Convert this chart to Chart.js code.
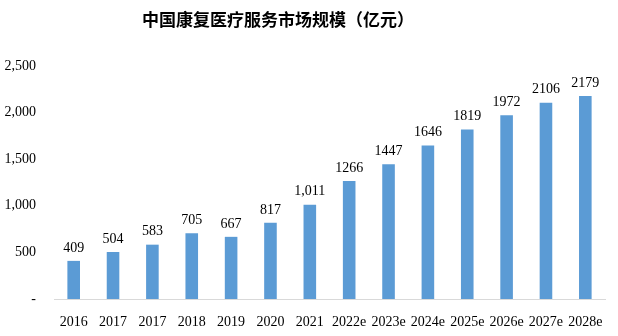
<!DOCTYPE html>
<html>
<head>
<meta charset="utf-8">
<script src="https://cdn.jsdelivr.net/npm/chart.js@4"></script>
<style>
  body { margin: 0; background: #fff; }
  #wrap { width: 618px; height: 336px; }
</style>
</head>
<body>
<div id="wrap"><canvas id="marketChart"></canvas></div>
<script>
// data
const years = ['2016', '2017', '2017', '2018', '2019', '2020', '2021', '2022e', '2023e', '2024e', '2025e', '2026e', '2027e', '2028e'];
const marketSize = [409, 504, 583, 705, 667, 817, 1011, 1266, 1447, 1646, 1819, 1972, 2106, 2179];
const yTicks = [0, 500, 1000, 1500, 2000, 2500];

const serif = "'Liberation Serif', 'Times New Roman', serif";

// value labels over each bar (actual years get thousands separators, estimates don't)
const barLabels = {
    id: 'barLabels',
    afterDatasetsDraw(chart) {
        const ctx = chart.ctx;
        const meta = chart.getDatasetMeta(0);
        ctx.save();
        ctx.font = '14px ' + serif;
        ctx.fillStyle = '#000';
        ctx.textAlign = 'center';
        ctx.textBaseline = 'bottom';
        meta.data.forEach(function(bar, i) {
            const v = marketSize[i];
            const txt = years[i].endsWith('e') ? String(v) : v.toLocaleString('en-US');
            ctx.fillText(txt, bar.x, bar.y - 6);
        });
        ctx.restore();
    }
};

const chartTitle = {
    id: 'chartTitle',
    afterDraw(chart) {
        const ctx = chart.ctx;
        ctx.save();
        ctx.font = "bold 17px 'Noto Sans CJK SC', sans-serif";
        ctx.fillStyle = '#000';
        ctx.textAlign = 'center';
        ctx.textBaseline = 'middle';
        ctx.fillText('中国康复医疗服务市场规模（亿元）', 278, 20);
        ctx.restore();
    }
};

const ctx = document.querySelector('#marketChart').getContext('2d');
const marketChart = new Chart(ctx, {
    type: 'bar',
    data: {
        labels: years,
        datasets: [{
            data: marketSize,
            backgroundColor: '#5B9BD5',
            barPercentage: 1,
            categoryPercentage: 0.32
        }]
    },
    options: {
        responsive: true,
        maintainAspectRatio: false,
        animation: false,
        layout: { padding: { top: 66, right: 13, bottom: 0, left: 0 } },
        plugins: {
            legend: { display: false },
            title: { display: false },
            tooltip: { enabled: false }
        },
        scales: {
            x: {
                afterFit(scale) { scale.height = 37; },
                grid: { display: false, drawTicks: false },
                border: { display: true, color: '#d9d9d9', width: 1 },
                ticks: {
                    color: '#000',
                    font: { family: serif, size: 14 },
                    padding: 15,
                    maxRotation: 0,
                    autoSkip: false
                }
            },
            y: {
                min: 0,
                max: 2500,
                afterBuildTicks(scale) {
                    scale.ticks = yTicks.map(v => ({ value: v }));
                },
                afterFit(scale) { scale.width = 54; },
                grid: { display: false, drawTicks: false },
                border: { display: false },
                ticks: {
                    color: '#000',
                    font: { family: serif, size: 14 },
                    padding: 18,
                    callback: v => v === 0 ? '-' : v.toLocaleString('en-US')
                }
            }
        }
    },
    plugins: [barLabels, chartTitle]
});
</script>
</body>
</html>
